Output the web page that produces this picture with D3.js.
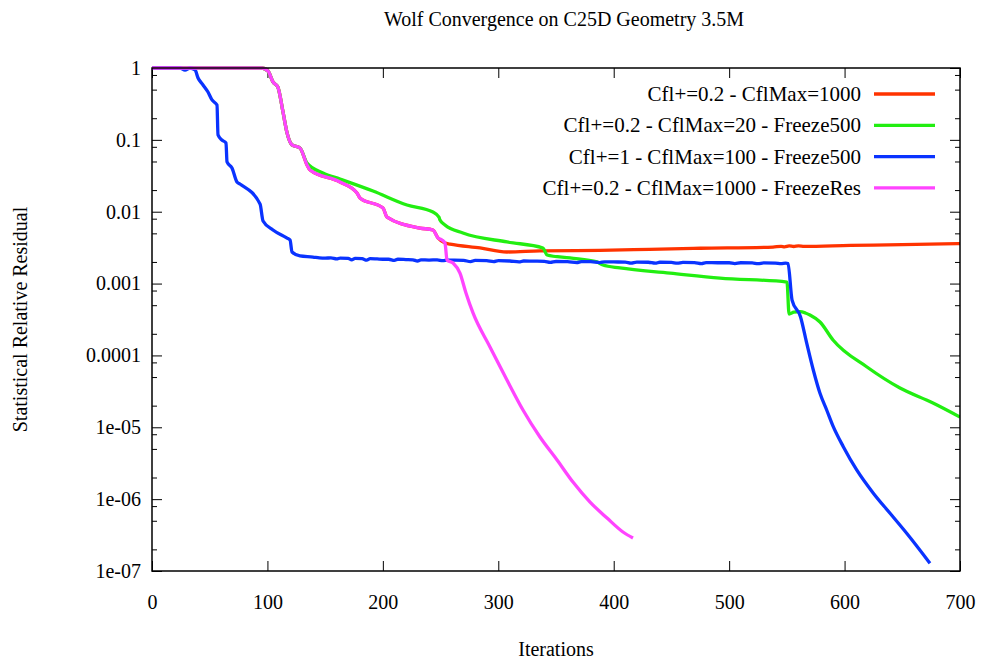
<!DOCTYPE html>
<html><head><meta charset="utf-8">
<script src="https://cdn.jsdelivr.net/npm/d3@7"></script>
<style>
body{margin:0;background:#fff}
text{font-family:"Liberation Serif","Times New Roman",serif;fill:#000}
</style>
</head><body>
<svg id="chart" width="981" height="662"></svg>
<script>
const chartTitle = "Wolf Convergence on C25D Geometry 3.5M";
const xTitle = "Iterations";
const yTitle = "Statistical Relative Residual";
const xTicks = [0,100,200,300,400,500,600,700];
const yTicks = [1,0.1,0.01,0.001,0.0001,1e-5,1e-6,1e-7];
const yTickLabels = ["1","0.1","0.01","0.001","0.0001","1e-05","1e-06","1e-07"];
const seriesNames = ["Cfl+=0.2 - CflMax=1000","Cfl+=0.2 - CflMax=20 - Freeze500","Cfl+=1 - CflMax=100 - Freeze500","Cfl+=0.2 - CflMax=1000 - FreezeRes"];
const seriesColors = ["#ff3300","#22ee11","#0a33ff","#ff44ff"];

const redIter = [0,95,100.5,104.8,109,113.5,117,121.3,128.2,134.3,136.9,162.9,177.6,180.2,200.1,203.6,232.2,243.4,247.8,253.8,258.2,284.2,307.5,336.1,388,431,475,538,545,548,552,556,560,565,605,650,700];
const redVal  = [1,1,0.908,0.64,0.544,0.244,0.125,0.085,0.077,0.0447,0.038,0.0259,0.0182,0.0155,0.01127,0.00844,0.00593,0.00557,0.0043,0.00367,0.00355,0.00313,0.00275,0.00285,0.0029,0.003,0.0031,0.00322,0.0033,0.00325,0.00334,0.00328,0.00334,0.00329,0.0034,0.00348,0.0036];

const greenIter = [0,95,100.5,104.8,109,113.5,117,121.3,128.2,134.3,148.1,162.9,191.5,220.9,243.4,248.6,249.5,253.8,269.4,307.5,338.7,342.2,362.1,385.5,390.7,405.4,448.8,492.1,550.1,551.9,556,561.4,566,570,578.7,590,619.4,648,676.6,700];
const greenVal  = [1,1,0.908,0.64,0.544,0.244,0.125,0.085,0.077,0.0476,0.0346,0.0285,0.0194,0.0124,0.0099,0.0084,0.00767,0.00653,0.00506,0.00379,0.00313,0.0025,0.00227,0.002,0.00181,0.00165,0.0014,0.00119,0.00105,0.000377,0.0004,0.000406,0.00039,0.000365,0.000292,0.000164,6.9e-5,3.52e-5,2.18e-5,1.39e-5];

const blueIter = [0,24.3,28.6,32.9,37.3,39.9,44.2,48.5,52,56.3,57.2,60.6,64.1,65,69.3,73.6,76.2,93.6,96.2,104.8,117,119.6,121.3,128.2,139.5,
  145,150,155,160,163,170,173,176,182,186,189,195,200,205,210,213,220,226,230,233,240,247,252,256,262,270,276,280,290,296,300,310,318,322,330,340,345,350,360,368,372,380,388,392,400,410,415,420,430,436,440,450,455,460,470,476,480,490,500,505,510,520,525,530,540,545,549,551,
  554.5,561.8,567.2,572.9,578.7,584.5,590.2,598.9,610.5,624.9,639.4,653.8,674];
const blueVal  = [1,1,0.938,1,0.94,0.726,0.58,0.463,0.359,0.305,0.117,0.0995,0.0904,0.0492,0.0406,0.0259,0.0243,0.0128,0.00743,0.00557,0.0043,0.00403,0.00275,0.00242,0.00234,
  0.00228,0.00226,0.00228,0.0022,0.00226,0.00224,0.00214,0.00224,0.00222,0.00212,0.00222,0.0022,0.00218,0.00218,0.0021,0.00218,0.00216,0.00214,0.00206,0.00214,0.00212,0.00214,0.00208,0.00212,0.00212,0.0021,0.00202,0.0021,0.00208,0.00202,0.00208,0.00206,0.002,0.00206,0.00205,0.00204,0.00197,0.00203,0.00202,0.00196,0.00202,0.00202,0.00196,0.00201,0.002,0.00199,0.00193,0.00199,0.00198,0.00192,0.00198,0.00197,0.00192,0.00197,0.00196,0.0019,0.00196,0.00195,0.00195,0.0019,0.00195,0.00194,0.00189,0.00194,0.00193,0.00189,0.00193,0.0019,
  5.9e-4,3.46e-4,1.48e-4,6.27e-5,2.97e-5,1.74e-5,1.02e-5,5.37e-6,2.55e-6,1.21e-6,6.35e-7,3.35e-7,1.28e-7];

const magentaIter = [0,95,100.5,104.8,109,113.5,117,121.3,128.2,134.3,136.9,162.9,177.6,180.2,200.1,203.6,232.2,243.4,247.8,251.2,253.8,255.6,260.8,266.8,272,278.1,292.8,307.5,321.4,336.1,350.9,364.7,379.5,394.2,408,416.7];
const magentaVal  = [1,1,0.908,0.64,0.544,0.244,0.125,0.085,0.077,0.0447,0.038,0.0259,0.0182,0.0155,0.01127,0.00844,0.00593,0.00557,0.0043,0.00404,0.00367,0.00213,0.00193,0.0014,7.4e-4,3.9e-4,1.31e-4,4.55e-5,1.74e-5,7.32e-6,3.51e-6,1.73e-6,9.1e-7,5.46e-7,3.49e-7,2.88e-7];

const series = [
  {name:seriesNames[0], color:seriesColors[0], iter:redIter, val:redVal},
  {name:seriesNames[1], color:seriesColors[1], iter:greenIter, val:greenVal},
  {name:seriesNames[2], color:seriesColors[2], iter:blueIter, val:blueVal},
  {name:seriesNames[3], color:seriesColors[3], iter:magentaIter, val:magentaVal}
];

const FONT = "'Liberation Serif','Times New Roman',serif";
const L=152, R=960, T=68, B=571;
const svg = d3.select("#chart");
const x = d3.scaleLinear().domain([0,700]).range([L,R]);
const y = d3.scaleLog().domain([1e-7,1]).range([B,T]);

const minorY = [];
for (let k=-7;k<0;k++) [2,5,8].forEach(m=>minorY.push(m*Math.pow(10,k)));

function styleAxis(g){ g.select(".domain").remove(); g.selectAll("line").attr("stroke","#000").attr("stroke-width",1); }

// inward ticks on all four sides
svg.append("g").attr("transform",`translate(0,${B})`).call(d3.axisBottom(x).tickValues(xTicks).tickSizeInner(-10).tickSizeOuter(0).tickFormat("")).call(styleAxis);
svg.append("g").attr("transform",`translate(0,${T})`).call(d3.axisTop(x).tickValues(xTicks).tickSizeInner(-10).tickSizeOuter(0).tickFormat("")).call(styleAxis);
svg.append("g").attr("transform",`translate(${L},0)`).call(d3.axisLeft(y).tickValues(yTicks).tickSizeInner(-10).tickSizeOuter(0).tickFormat("")).call(styleAxis);
svg.append("g").attr("transform",`translate(${L},0)`).call(d3.axisLeft(y).tickValues(minorY).tickSizeInner(-5).tickSizeOuter(0).tickFormat("")).call(styleAxis);
svg.append("g").attr("transform",`translate(${R},0)`).call(d3.axisRight(y).tickValues(yTicks).tickSizeInner(-10).tickSizeOuter(0).tickFormat("")).call(styleAxis);
svg.append("g").attr("transform",`translate(${R},0)`).call(d3.axisRight(y).tickValues(minorY).tickSizeInner(-5).tickSizeOuter(0).tickFormat("")).call(styleAxis);

// tick labels
const xl = svg.append("g").attr("transform",`translate(0,${B})`).attr("font-family",FONT)
  .call(d3.axisBottom(x).tickValues(xTicks).tickSize(0).tickPadding(24).tickFormat(d3.format("d")));
xl.attr("font-family",FONT).attr("font-size",20);
xl.select(".domain").remove();
xl.selectAll("text").attr("font-size",20).style("font-family",FONT);
const yl = svg.append("g").attr("transform",`translate(${L},0)`)
  .call(d3.axisLeft(y).tickValues(yTicks).tickSize(0).tickPadding(11).tickFormat((d,i)=>yTickLabels[i]));
yl.attr("font-family",FONT).attr("font-size",20);
yl.select(".domain").remove();
yl.selectAll("text").attr("font-size",20).style("font-family",FONT);

// lines
const line = d3.line().x(d=>x(d[0])).y(d=>y(d[1])).curve(d3.curveMonotoneX);
svg.append("clipPath").attr("id","clip").append("rect").attr("x",L).attr("y",T-3).attr("width",R-L).attr("height",B-T+3);
series.forEach(s=>{
  const pts = s.iter.map((v,i)=>[v,s.val[i]]);
  svg.append("path").datum(pts).attr("d",line).attr("fill","none")
    .attr("stroke",s.color).attr("stroke-width",3.3).attr("stroke-linejoin","round").attr("clip-path","url(#clip)");
});

// frame
svg.append("rect").attr("x",L).attr("y",T).attr("width",R-L).attr("height",B-T).attr("fill","none").attr("stroke","#000").attr("stroke-width",1.5);

// legend
const legY0 = 94, legDy = 31.3;
series.forEach((s,i)=>{
  const yy = legY0 + i*legDy;
  svg.append("text").attr("x",861).attr("y",yy+7).attr("text-anchor","end").attr("font-size",21).style("font-family",FONT).text(s.name);
  svg.append("line").attr("x1",874).attr("x2",935).attr("y1",yy).attr("y2",yy).attr("stroke",s.color).attr("stroke-width",3.3);
});

// titles
svg.append("text").attr("x",564).attr("y",26).attr("text-anchor","middle").attr("font-size",20).style("font-family",FONT).text(chartTitle);
svg.append("text").attr("x",556).attr("y",656).attr("text-anchor","middle").attr("font-size",20).style("font-family",FONT).text(xTitle);
svg.append("text").attr("transform",`translate(27,${(T+B)/2}) rotate(-90)`).attr("text-anchor","middle").attr("font-size",20).style("font-family",FONT).text(yTitle);
</script>
</body></html>
